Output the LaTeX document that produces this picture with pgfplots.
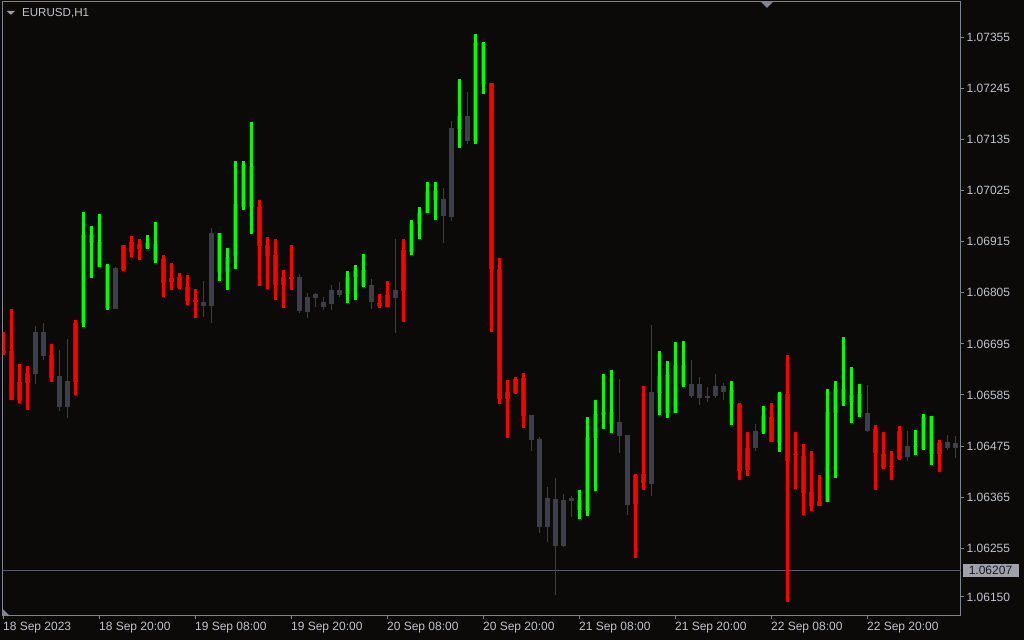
\documentclass[border=0pt]{standalone}
\usepackage{pgfplots}
\pgfplotsset{compat=1.18}
\usepackage{pgfplotstable}
\usepackage{fontspec}
\setmainfont{Liberation Sans}
\definecolor{bg}{RGB}{12,10,8}
\definecolor{cgray}{RGB}{60,63,75}
\definecolor{cgreen}{RGB}{0,255,0}
\definecolor{cred}{RGB}{255,0,0}
\definecolor{frame}{RGB}{128,131,146}
\definecolor{lbl}{RGB}{192,195,206}
\definecolor{pline}{RGB}{88,92,106}
\definecolor{boxc}{RGB}{160,160,170}
\definecolor{boxt}{RGB}{20,26,40}
% prices in points above 1.06000 (1 point = 0.00001)
\pgfplotstableread{
k wl bl bh wh
0 676 676 680 680
1 575 575 680 680
2 575 575 613 613
3 611 611 633 633
4 609 631 721 734
5 661 670 721 741
6 622 622 672 672
7 551 560 626 682
8 536 560 616 706
9 613 613 741 741
10 739 739 930 930
11 913 913 930 930
12 861 861 915 915
13 773 773 866 866
14 771 771 859 861
15 854 854 908 908
16 894 894 915 915
17 900 900 911 911
18 902 902 913 913
19 876 876 911 911
20 827 827 879 879
21 829 829 838 838
22 816 816 840 840
23 788 788 818 818
24 786 786 790 790
25 754 777 786 831
26 741 777 935 945
27 851 851 935 935
28 851 851 883 883
29 885 885 997 997
30 991 991 1081 1081
31 989 989 1079 1079
32 907 907 991 991
33 885 885 909 909
34 822 822 887 887
35 822 822 840 840
36 835 835 840 840
37 762 766 840 846
38 751 764 797 805
39 775 794 803 805
40 769 775 786 795
41 769 782 812 822
42 797 801 812 829
43 803 803 840 840
44 840 840 855 855
45 820 820 855 855
46 771 786 822 835
47 777 777 784 784
48 775 775 801 801
49 719 794 812 922
50 810 810 898 898
51 894 894 954 954
52 954 954 978 978
53 978 978 1023 1023
54 1006 1006 1025 1025
55 913 971 1008 1030
56 960 969 1161 1176
57 1159 1159 1187 1187
58 1126 1133 1187 1237
59 1133 1133 1344 1344
60 1254 1254 1344 1344
61 857 857 1256 1256
62 577 577 857 857
63 577 577 592 592
64 590 590 620 620
65 540 540 622 622
66 465 488 542 542
67 288 301 490 495
68 268 301 363 387
69 154 260 361 406
70 258 260 359 372
71 322 357 363 368
72 337 337 359 359
73 335 335 495 495
74 493 493 544 544
75 542 542 549 549
76 523 523 549 549
77 460 497 527 620
78 327 348 499 499
79 350 350 413 413
80 396 396 415 415
81 368 394 592 736
82 590 590 626 626
83 547 547 628 628
84 547 547 650 650
85 607 607 650 650
86 579 583 609 661
87 564 579 609 624
88 570 579 583 603
89 579 583 605 631
90 575 592 605 611
91 566 566 596 596
92 422 422 566 566
93 424 424 471 471
94 465 471 508 523
95 506 506 540 540
96 484 484 538 538
97 482 482 590 590
98 443 443 588 588
99 455 455 457 457
100 374 374 454 454
101 346 346 376 376
102 346 346 357 357
103 355 355 549 549
104 547 547 598 598
105 572 572 598 598
106 570 570 585 585
107 547 547 588 588
108 506 508 547 607
109 460 460 512 512
110 428 428 458 458
111 429 429 431 431
112 447 447 508 508
113 443 452 475 508
114 474 474 476 476
115 469 469 538 538
116 458 458 540 540
117 458 458 482 482
118 467 471 484 499
119 450 471 482 497
}\graydata
\pgfplotstableread{
k lo hi
10 732 980
11 836 948
12 861 974
13 769 868
18 900 930
19 870 958
27 831 935
28 812 902
29 857 1090
30 984 1090
31 932 1172
43 784 853
44 790 866
45 818 889
51 887 963
52 922 991
53 976 1043
54 963 1043
57 1118 1265
59 1126 1362
60 1234 1346
72 318 381
73 324 538
74 378 575
75 512 631
76 503 639
82 542 680
83 536 659
84 547 700
85 603 702
91 521 616
95 501 562
97 462 592
103 355 598
104 406 616
105 562 710
106 525 646
107 538 609
114 456 510
115 467 544
116 435 540
}\greendata
\pgfplotstableread{
k lo hi
0 672 721
1 575 771
2 568 652
3 553 648
6 613 695
9 585 747
15 853 909
16 883 928
17 876 920
20 795 887
21 812 870
22 814 848
23 779 844
24 751 814
32 820 1006
33 814 926
34 790 922
35 773 855
36 812 909
47 773 803
48 775 831
50 743 922
61 721 1256
62 566 881
63 493 618
64 588 624
65 514 633
79 234 415
80 381 605
92 402 568
93 411 506
96 484 568
98 139 672
99 383 506
100 327 480
101 335 465
102 346 413
109 381 521
110 426 506
111 402 465
112 445 519
117 419 488
}\reddata
\pgfplotsset{candle/.style 2 args={only marks, mark=*, mark size=0pt,
  mark options={draw=none, fill=none}, forget plot,
  error bars/.cd, y dir=plus, y explicit, error mark=none,
  error bar style={line width=#1, color=#2, solid}}}
\begin{document}
\begin{tikzpicture}
\fill[bg] (0,0) rectangle (512pt,320pt);
\useasboundingbox (0,0) rectangle (512pt,320pt);
\begin{axis}[
  at={(1.35pt,12pt)}, anchor=south west,
  scale only axis, width=479pt, height=307pt,
  xmin=-0.075, xmax=119.675, ymin=108.9, ymax=1431.6,
  axis line style={color=frame, line width=0.5pt},
  tick style={color=frame, line width=0.5pt},
  tick align=outside, major tick length=1.6pt,
  xtick pos=bottom, ytick pos=right,
  xtick={0,12,...,108},
  xticklabels={18 Sep 2023, 18 Sep 20:00, 19 Sep 08:00, 19 Sep 20:00, 20 Sep 08:00, 20 Sep 20:00, 21 Sep 08:00, 21 Sep 20:00, 22 Sep 08:00, 22 Sep 20:00},
  x tick label style={anchor=north west, inner sep=0pt, xshift=-0.3pt, yshift=-1.2pt, font=\fontsize{6pt}{7pt}\selectfont, text=lbl},
  ytick={150,255,365,475,585,695,805,915,1025,1135,1245,1355},
  yticklabels={1.06150,1.06255,1.06365,1.06475,1.06585,1.06695,1.06805,1.06915,1.07025,1.07135,1.07245,1.07355},
  yticklabel pos=right,
  y tick label style={anchor=west, inner sep=0pt, xshift=1.2pt, font=\fontsize{6pt}{7pt}\selectfont, text=lbl},
  /pgf/number format/assume math mode=true,
]
\addplot[pline, line width=0.5pt, forget plot] coordinates {(-1,207) (121,207)};
% gray wicks
\addplot[candle={0.5pt}{cgray}]
  table[x=k, y=wl, y error plus expr=\thisrow{wh}-\thisrow{wl}] {\graydata};
% gray bodies
\addplot[candle={2.5pt}{cgray}]
  table[x=k, y=bl, y error plus expr=\thisrow{bh}-\thisrow{bl}] {\graydata};
% green bars
\addplot[candle={1.7pt}{cgreen}]
  table[x=k, y=lo, y error plus expr=\thisrow{hi}-\thisrow{lo}] {\greendata};
% red bars
\addplot[candle={1.7pt}{cred}]
  table[x=k, y=lo, y error plus expr=\thisrow{hi}-\thisrow{lo}] {\reddata};
\coordinate (pl) at (axis cs:119.675,207);
\end{axis}
\node[fill=boxc, text=boxt, anchor=west, minimum width=28pt, minimum height=6.5pt, inner sep=0pt, font=\fontsize{6pt}{7pt}\selectfont] at ([xshift=0.7pt]pl) {1.06207};
\node[anchor=base west, inner sep=0pt, text=lbl, font=\fontsize{5.8pt}{7pt}\selectfont] at (10.85pt,311.65pt) {EURUSD,H1};
\fill[lbl!80!black] (3.35pt,314.5pt) -- (7.5pt,314.5pt) -- (5.42pt,312.6pt) -- cycle;
\fill[frame] (380.5pt,319pt) -- (386.5pt,319pt) -- (383.5pt,316pt) -- cycle;
\fill[frame] (1.35pt,12pt) -- (5pt,12pt) -- (1.35pt,15.5pt) -- cycle;
\end{tikzpicture}
\end{document}
